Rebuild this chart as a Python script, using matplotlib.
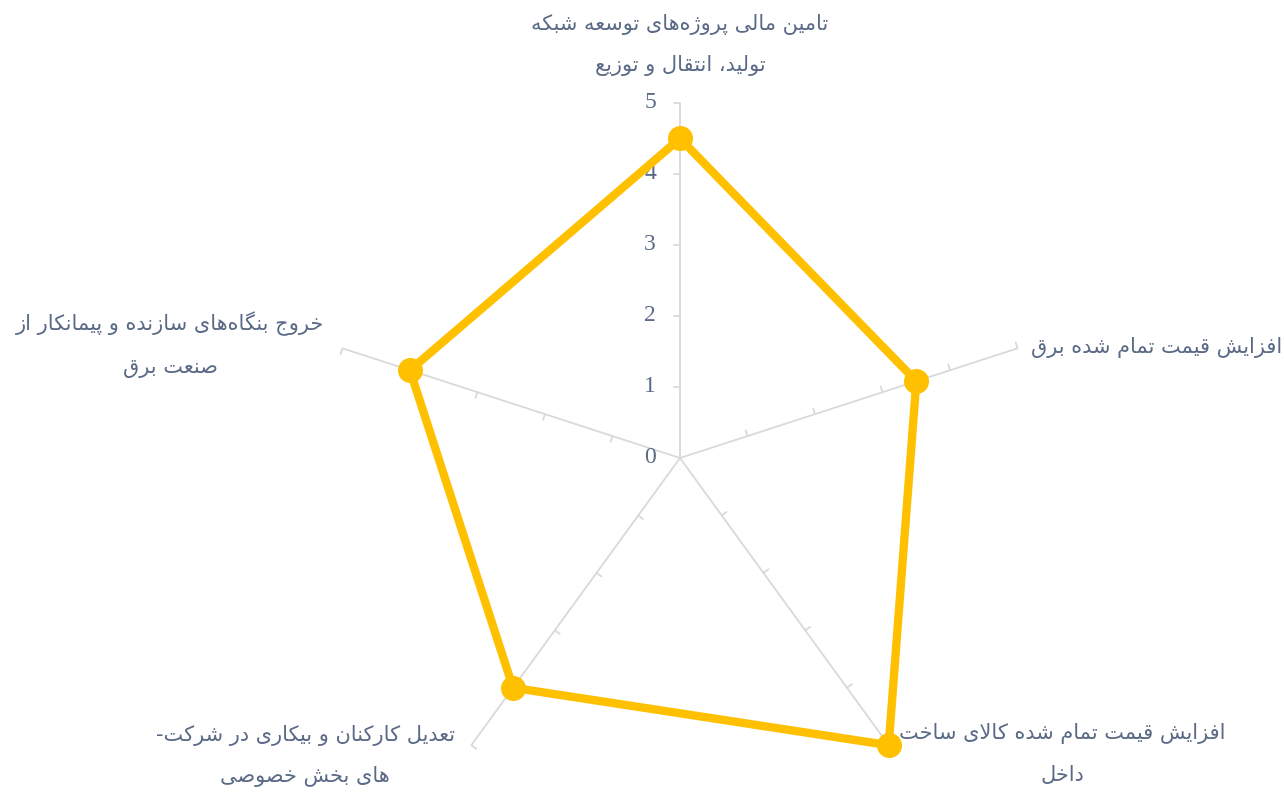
import numpy as np
import matplotlib
matplotlib.use("Agg")
import matplotlib.pyplot as plt

# ---------------- data ----------------
categories = [
    "تامین مالی پروژه‌های توسعه شبکه\nتولید، انتقال و توزیع",
    "افزایش قیمت تمام شده برق",
    "افزایش قیمت تمام شده کالای ساخت\nداخل",
    "تعدیل کارکنان و بیکاری در شرکت-\nهای بخش خصوصی",
    "خروج بنگاه‌های سازنده و پیمانکار از\nصنعت برق",
]
values = [4.5, 3.5, 5.0, 4.0, 4.0]
r_ticks = [0, 1, 2, 3, 4, 5]
r_tick_labels = ["0", "1", "2", "3", "4", "5"]

# ---------------- Arabic shaping (no external libs) ----------------
FORMS = {
    '\u0627': ('\uFE8D', '\uFE8E', None, None),
    '\u0628': ('\uFE8F', '\uFE90', '\uFE91', '\uFE92'),
    '\u062A': ('\uFE95', '\uFE96', '\uFE97', '\uFE98'),
    '\u062B': ('\uFE99', '\uFE9A', '\uFE9B', '\uFE9C'),
    '\u062C': ('\uFE9D', '\uFE9E', '\uFE9F', '\uFEA0'),
    '\u062D': ('\uFEA1', '\uFEA2', '\uFEA3', '\uFEA4'),
    '\u062E': ('\uFEA5', '\uFEA6', '\uFEA7', '\uFEA8'),
    '\u062F': ('\uFEA9', '\uFEAA', None, None),
    '\u0630': ('\uFEAB', '\uFEAC', None, None),
    '\u0631': ('\uFEAD', '\uFEAE', None, None),
    '\u0632': ('\uFEAF', '\uFEB0', None, None),
    '\u0633': ('\uFEB1', '\uFEB2', '\uFEB3', '\uFEB4'),
    '\u0634': ('\uFEB5', '\uFEB6', '\uFEB7', '\uFEB8'),
    '\u0635': ('\uFEB9', '\uFEBA', '\uFEBB', '\uFEBC'),
    '\u0636': ('\uFEBD', '\uFEBE', '\uFEBF', '\uFEC0'),
    '\u0637': ('\uFEC1', '\uFEC2', '\uFEC3', '\uFEC4'),
    '\u0638': ('\uFEC5', '\uFEC6', '\uFEC7', '\uFEC8'),
    '\u0639': ('\uFEC9', '\uFECA', '\uFECB', '\uFECC'),
    '\u063A': ('\uFECD', '\uFECE', '\uFECF', '\uFED0'),
    '\u0641': ('\uFED1', '\uFED2', '\uFED3', '\uFED4'),
    '\u0642': ('\uFED5', '\uFED6', '\uFED7', '\uFED8'),
    '\u0643': ('\uFED9', '\uFEDA', '\uFEDB', '\uFEDC'),
    '\u0644': ('\uFEDD', '\uFEDE', '\uFEDF', '\uFEE0'),
    '\u0645': ('\uFEE1', '\uFEE2', '\uFEE3', '\uFEE4'),
    '\u0646': ('\uFEE5', '\uFEE6', '\uFEE7', '\uFEE8'),
    '\u0647': ('\uFEE9', '\uFEEA', '\uFEEB', '\uFEEC'),
    '\u0648': ('\uFEED', '\uFEEE', None, None),
    '\u064A': ('\uFEF1', '\uFEF2', '\uFEF3', '\uFEF4'),
    '\u067E': ('\uFB56', '\uFB57', '\uFB58', '\uFB59'),
    '\u0686': ('\uFB7A', '\uFB7B', '\uFB7C', '\uFB7D'),
    '\u0698': ('\uFB8A', '\uFB8B', None, None),
    '\u06A9': ('\uFB8E', '\uFB8F', '\uFB90', '\uFB91'),
    '\u06AF': ('\uFB92', '\uFB93', '\uFB94', '\uFB95'),
    '\u06CC': ('\uFBFC', '\uFBFD', '\uFBFE', '\uFBFF'),
}


def joins_forward(c):
    return c in FORMS and FORMS[c][2] is not None


def shape_line(s):
    chars = list(s)
    n = len(chars)
    res = []
    i = 0
    while i < n:
        c = chars[i]
        if c not in FORMS:
            if c != '\u200c':
                res.append(c)
            i += 1
            continue
        prev = chars[i - 1] if i > 0 else None
        join_prev = prev is not None and joins_forward(prev)
        if c == '\u0644' and i + 1 < n and chars[i + 1] == '\u0627':
            res.append('\uFEFC' if join_prev else '\uFEFB')
            i += 2
            continue
        nxt = chars[i + 1] if i + 1 < n else None
        join_next = joins_forward(c) and nxt is not None and nxt in FORMS
        iso, fin, ini, med = FORMS[c]
        if join_prev and join_next:
            res.append(med)
        elif join_prev:
            res.append(fin)
        elif join_next:
            res.append(ini)
        else:
            res.append(iso)
        i += 1
    return ''.join(reversed(res))


def shape(s):
    return '\n'.join(shape_line(l) for l in s.split('\n'))


# ---------------- figure ----------------
W, H = 1284, 796
fig = plt.figure(figsize=(W / 100, H / 100), dpi=100)
fig.patch.set_facecolor('white')

cx, cy, R = 680, 458, 355  # pixel layout of the radar
ax = fig.add_axes([(cx - R) / W, (H - cy - R) / H, 2 * R / W, 2 * R / H],
                  projection='polar')
ax.set_theta_zero_location('N')
ax.set_theta_direction(-1)
ax.set_ylim(0, 5)
ax.set_frame_on(False)
ax.grid(False)
ax.set_xticks([])
ax.set_yticks([])
ax.patch.set_alpha(0)

n = len(categories)
angles = np.arange(n) * 2 * np.pi / n

spoke_color = '#D9D9D9'
text_color = '#5A6A86'

# spokes
for a in angles:
    ax.plot([a, a], [0, 5], color=spoke_color, lw=1.3, zorder=1,
            solid_capstyle='butt', clip_on=False)

# tick marks on spokes (on the counter-clockwise side)
for a in angles:
    disp_deg = 90 - np.degrees(a)  # display angle ccw from east
    for r in r_ticks[1:]:
        ax.annotate('', xy=(a, r), xycoords='data',
                    xytext=(6 * np.cos(np.radians(disp_deg + 90)),
                            6 * np.sin(np.radians(disp_deg + 90))),
                    textcoords='offset pixels',
                    arrowprops=dict(arrowstyle='-', color=spoke_color, lw=1.3,
                                    shrinkA=0, shrinkB=0),
                    zorder=1, annotation_clip=False)

# radial tick labels along the first spoke
for r, lab in zip(r_ticks, r_tick_labels):
    ax.annotate(lab, xy=(0, r), xycoords='data', xytext=(-24, 0),
                textcoords='offset pixels', ha='right', va='center',
                fontsize=17, family='Liberation Serif', color=text_color,
                zorder=2, annotation_clip=False)

# data series
th = np.concatenate([angles, angles[:1]])
vv = np.concatenate([values, values[:1]])
ax.plot(th, vv, color='#FFC000', lw=6, zorder=3, solid_joinstyle='round',
        clip_on=False)
ax.plot(angles, values, 'o', color='#FFC000', ms=17, zorder=4, clip_on=False)

# category labels (pixel layout)
label_pos = [
    (680, 45, 'center'),
    (1157, 347, 'center'),
    (1062, 754, 'center'),
    (305, 756, 'center'),
    (170, 345, 'center'),
]
for txt, (x, y, ha) in zip(categories, label_pos):
    fig.text(x / W, 1 - y / H, shape(txt), ha=ha, va='center', multialignment='center',
             fontsize=15, family='DejaVu Sans', color=text_color, linespacing=2.3)

fig.savefig('out.png', dpi=100, facecolor='white')
